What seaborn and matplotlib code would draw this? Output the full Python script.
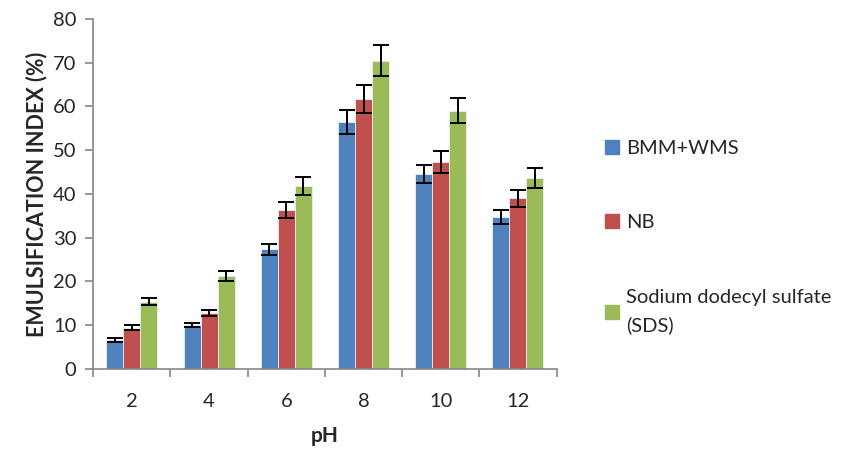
"""
Emulsification index vs pH for the three emulsifiers (grouped bars + error bars).
"""
import numpy as np
import pandas as pd
import seaborn as sns
import matplotlib.pyplot as plt
from matplotlib.lines import Line2D

# ---- data ----
ph_levels = ["2", "4", "6", "8", "10", "12"]
series_names = ["BMM+WMS", "NB", "Sodium dodecyl sulfate\n(SDS)"]

bmm_wms = [6.7, 10.0, 27.3, 56.4, 44.5, 34.8]
nb = [9.4, 12.7, 36.4, 61.7, 47.3, 39.0]
sds = [15.4, 21.2, 41.8, 70.5, 59.0, 43.7]

bmm_wms_err = [0.45, 0.5, 1.2, 2.8, 2.1, 1.6]
nb_err = [0.55, 0.7, 1.8, 3.2, 2.5, 2.0]
sds_err = [0.9, 1.1, 2.1, 3.5, 2.9, 2.3]

colors = ["#4F81BD", "#C0504D", "#9BBB59"]
axis_grey = "#868686"

df = pd.DataFrame({
    "pH": ph_levels * 3,
    "series": np.repeat(series_names, len(ph_levels)),
    "value": bmm_wms + nb + sds,
    "err": bmm_wms_err + nb_err + sds_err,
})

sns.set_theme(style="white")
plt.rcParams["font.family"] = ["Lato", "DejaVu Sans"]

fig = plt.figure(figsize=(8.55, 4.51), dpi=100)
ax = fig.add_axes([0.109, 0.182, 0.542, 0.776])

sns.barplot(
    data=df, x="pH", y="value", hue="series", order=ph_levels,
    hue_order=series_names, palette=colors, saturation=1, width=0.66,
    errorbar=None, edgecolor="#e8eef5", linewidth=0.6, legend=False, ax=ax,
)

# error bars at the centre of each drawn bar (patches ordered hue-major)
bars = [p for p in ax.patches if p.get_height() > 0]
for patch, err in zip(bars, df["err"]):
    cx = patch.get_x() + patch.get_width() / 2
    ax.errorbar(cx, patch.get_height(), yerr=err, fmt="none",
                ecolor="black", elinewidth=1.4, capsize=6, capthick=1.4)

# axes cosmetics, Excel style
ax.set_ylim(0, 80)
ax.set_yticks(range(0, 81, 10))
ax.set_xlim(-0.5, len(ph_levels) - 0.5)
ax.set_xticks(np.arange(len(ph_levels)))
ax.set_xticklabels(ph_levels)
ax.set_xticks(np.arange(-0.5, len(ph_levels)), minor=True)
ax.tick_params(axis="x", which="major", length=0, pad=17, labelsize=14.5)
ax.tick_params(axis="x", which="minor", length=6, width=1.2, color=axis_grey,
               direction="out", bottom=True)
ax.tick_params(axis="y", length=6, width=1.2, color=axis_grey, direction="out",
               left=True, pad=6, labelsize=14.5)

for side in ["top", "right"]:
    ax.spines[side].set_visible(False)
for side in ["left", "bottom"]:
    ax.spines[side].set_color(axis_grey)
    ax.spines[side].set_linewidth(1.2)

ax.set_xlabel("pH", fontsize=15, fontweight="bold", labelpad=12)
ax.set_ylabel("EMULSIFICATION INDEX (%)", fontsize=15.5, fontweight="bold", labelpad=4)

handles = [Line2D([0], [0], marker="s", linestyle="none", markersize=10.5,
                  markerfacecolor=c, markeredgecolor=c) for c in colors]
leg = fig.legend(handles, series_names, loc="upper left", bbox_to_anchor=(0.684, 0.73),
                 frameon=False, fontsize=14.5, labelspacing=2.85, handletextpad=0.25,
                 handlelength=0.9)
for t in leg.get_texts():
    t.set_linespacing(1.7)

plt.savefig("out.png", dpi=100)
plt.close()
